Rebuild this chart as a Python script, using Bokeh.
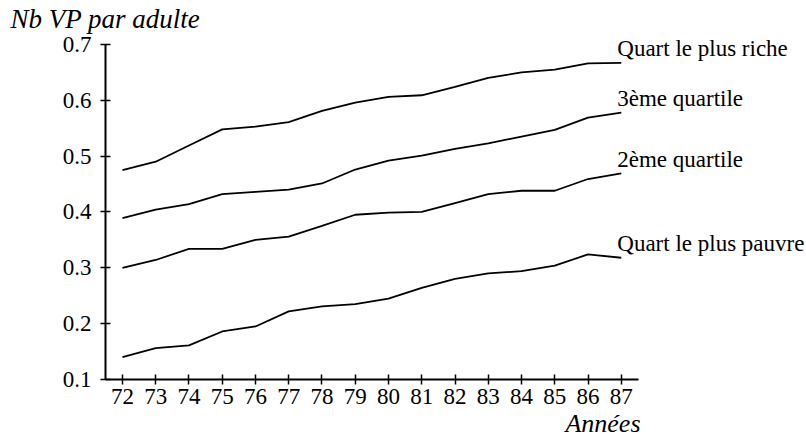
from bokeh.plotting import figure
from bokeh.models import FixedTicker, Range1d, Title, ColumnDataSource
from bokeh.core.properties import value
from bokeh.embed import file_html
from bokeh.resources import INLINE

years = list(range(72, 88))
riche = [0.475, 0.490, 0.519, 0.548, 0.553, 0.561, 0.581, 0.596, 0.606, 0.609, 0.624, 0.640, 0.650, 0.655, 0.666, 0.667]
q3 = [0.389, 0.404, 0.414, 0.432, 0.436, 0.440, 0.451, 0.476, 0.492, 0.501, 0.513, 0.523, 0.535, 0.547, 0.569, 0.578]
q2 = [0.300, 0.314, 0.334, 0.334, 0.350, 0.356, 0.375, 0.395, 0.399, 0.400, 0.416, 0.432, 0.438, 0.438, 0.459, 0.469]
pauvre = [0.140, 0.156, 0.161, 0.186, 0.195, 0.222, 0.231, 0.235, 0.245, 0.264, 0.280, 0.290, 0.294, 0.304, 0.324, 0.318]
series = [riche, q3, q2, pauvre]
names = ["Quart le plus riche", "3ème quartile", "2ème quartile", "Quart le plus pauvre"]
y_ticks = [0.1, 0.2, 0.3, 0.4, 0.5, 0.6, 0.7]

FONT = "Liberation Serif"
X0, X1 = 71.49, 87.52          # extent of the drawn x axis
XR = 92.57                     # frame extends right to hold the series labels
Y0, Y1 = 0.1, 0.7              # extent of the drawn y axis
YR = 0.716                     # frame extends a little above 0.7 for the top label

p = figure(width=806, height=439, output_backend="svg", toolbar_location=None,
           x_range=Range1d(X0, XR), y_range=Range1d(Y0, YR),
           min_border_left=105, min_border_right=0, min_border_top=34, min_border_bottom=60,
           title=None)
p.outline_line_color = None
p.xgrid.visible = False
p.ygrid.visible = False
p.background_fill_color = "white"
p.border_fill_color = "white"

for s in series:
    p.line(years, s, line_color="black", line_width=1.8)

for ax in (p.xaxis[0], p.yaxis[0]):
    ax.axis_line_width = 2
    ax.axis_line_color = "black"
    ax.major_tick_in = 5
    ax.major_tick_out = 5
    ax.major_tick_line_width = 1.5
    ax.minor_tick_line_color = None
    ax.major_label_text_font = FONT
    ax.major_label_text_font_size = "23px"
    ax.major_label_text_color = "black"

p.xaxis.bounds = (X0, X1)
p.yaxis.bounds = (Y0, Y1)
p.xaxis.ticker = FixedTicker(ticks=years)
p.yaxis.ticker = FixedTicker(ticks=y_ticks)
p.yaxis.major_label_overrides = {t: f"{t:.1f}" for t in y_ticks}
p.yaxis.major_label_standoff = 9
p.xaxis.major_label_standoff = 4

lab = ColumnDataSource(dict(x=[years[-1]] * len(series),
                            y=[s[-1] + 0.025 for s in series],
                            text=names))
p.text(x="x", y="y", text="text", source=lab, x_offset=-4,
       text_baseline="middle", text_align="left",
       text_font=value(FONT), text_font_size="23px", text_color="black")

p.add_layout(Title(text="Nb VP par adulte", align="left", offset=-95, standoff=3,
                   text_font=FONT, text_font_style="italic", text_font_size="27px",
                   text_color="black"), "above")
p.add_layout(Title(text="Années", align="right", offset=166, standoff=0,
                   text_font=FONT, text_font_style="italic", text_font_size="26px",
                   text_color="black"), "below")

open("out.html", "w").write(file_html(p, INLINE))
